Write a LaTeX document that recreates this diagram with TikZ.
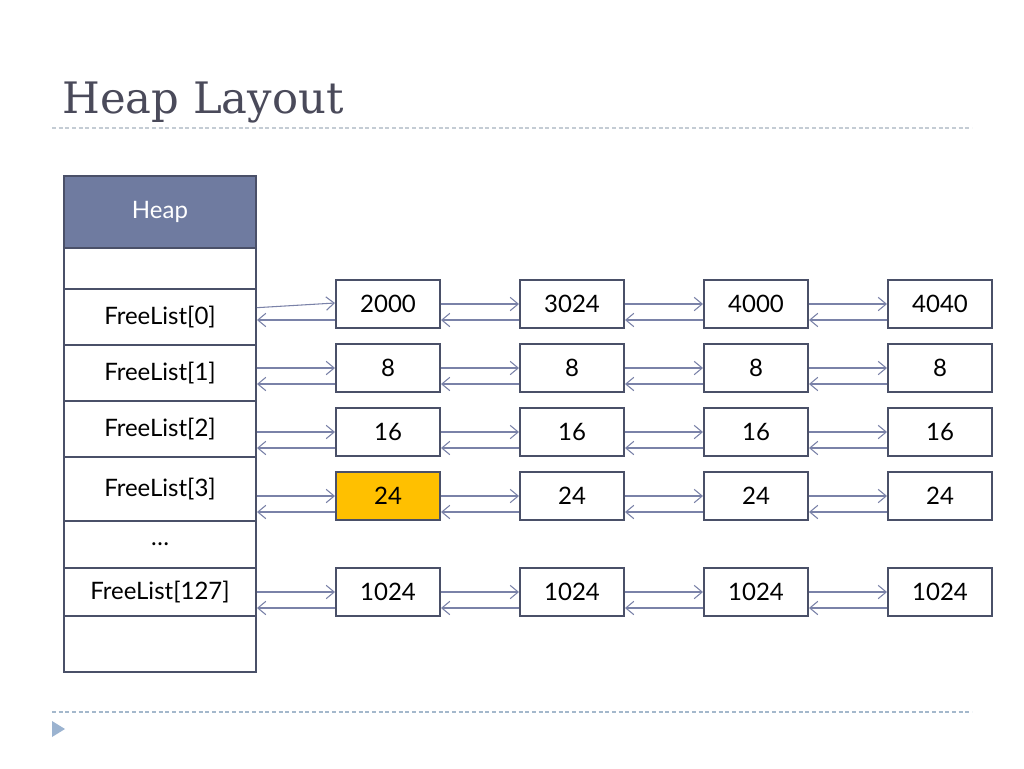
\documentclass[tikz,border=0pt]{standalone}
\usepackage{fontspec}
\setmainfont{Lato}
\newfontfamily\titlefont{DejaVu Serif}
\usetikzlibrary{arrows.meta}
\definecolor{boxline}{HTML}{4A5068}
\definecolor{arrcol}{HTML}{7A82A8}
\definecolor{headfill}{HTML}{6F7BA0}
\definecolor{hilite}{HTML}{FFC000}
\definecolor{titlecol}{HTML}{4A4A5A}
\definecolor{dashtop}{HTML}{C4CCD4}
\definecolor{dashbot}{HTML}{A4B8CC}
\definecolor{tri}{HTML}{9BB3D0}
\begin{document}
\begin{tikzpicture}[x=0.75pt,y=-0.75pt,
  cell/.style={draw=boxline,line width=1.5pt,minimum width=144pt,inner sep=0pt,font=\fontsize{18}{21}\selectfont},
  item/.style={draw=boxline,line width=1.5pt,minimum width=78pt,minimum height=36pt,inner sep=0pt,font=\fontsize{18}{21}\selectfont},
  arr/.style={draw=arrcol,line width=0.8pt,-{Straight Barb[length=6pt,width=10pt]}}]
\useasboundingbox (0,0) rectangle (1024,768);
\fill[white] (0,0) rectangle (1024,768);
% title
\node[anchor=base west,inner sep=0pt,text=titlecol,font=\titlefont\fontsize{32.5}{36}\selectfont] (title) at (62,113) {Heap Layout};
\draw[dashtop,line width=0.8pt,dash pattern=on 3pt off 2pt] (52,128) -- (972,128);
\draw[dashbot,line width=0.8pt,dash pattern=on 3pt off 2pt] (52,712) -- (972,712);
\fill[tri] (52,721) -- (65,729) -- (52,737) -- cycle;
% left column
\node[cell,fill=headfill,text=white,minimum height=54pt] (H) at (160,212) {Heap};
\node[cell,minimum height=30.75pt] (E1) at (160,268.5) {};
\node[cell,minimum height=42pt] (L0) at (160,317) {FreeList[0]};
\node[cell,minimum height=42pt] (L1) at (160,373) {FreeList[1]};
\node[cell,minimum height=42pt] (L2) at (160,429) {FreeList[2]};
\node[cell,minimum height=48pt] (L3) at (160,489) {FreeList[3]};
\node[cell,minimum height=35.25pt] (LD) at (160,544.5) {\ldots};
\node[cell,minimum height=36pt] (L127) at (160,592) {FreeList[127]};
\node[cell,minimum height=42pt] (E2) at (160,644) {};
% boxes
\node[item] (b0a) at (388,304) {2000};
\node[item] (b0b) at (572,304) {3024};
\node[item] (b0c) at (756,304) {4000};
\node[item] (b0d) at (940,304) {4040};
\node[item] (b1a) at (388,368) {8};
\node[item] (b1b) at (572,368) {8};
\node[item] (b1c) at (756,368) {8};
\node[item] (b1d) at (940,368) {8};
\node[item] (b2a) at (388,432) {16};
\node[item] (b2b) at (572,432) {16};
\node[item] (b2c) at (756,432) {16};
\node[item] (b2d) at (940,432) {16};
\node[item,fill=hilite] (b3a) at (388,496) {24};
\node[item] (b3b) at (572,496) {24};
\node[item] (b3c) at (756,496) {24};
\node[item] (b3d) at (940,496) {24};
\node[item] (b4a) at (388,592) {1024};
\node[item] (b4b) at (572,592) {1024};
\node[item] (b4c) at (756,592) {1024};
\node[item] (b4d) at (940,592) {1024};
% arrows from left column
\draw[arr] ([yshift=7pt]L0.east) -- ([yshift=0.75pt]b0a.west);
\draw[arr] ([yshift=-12pt]b0a.west) -- ([yshift=-12pt]b0a.west -| L0.east);
\foreach \L/\b in {L1/b1a,L2/b2a,L3/b3a,L127/b4a}{
  \draw[arr] (\b.west -| \L.east) -- (\b.west);
  \draw[arr] ([yshift=-12pt]\b.west) -- ([yshift=-12pt]\b.west -| \L.east);
}
% arrows between boxes
\foreach \r in {0,1,2,3,4}{
  \foreach \p/\q in {a/b,b/c,c/d}{
    \draw[arr] (b\r\p.east) -- (b\r\q.west);
    \draw[arr] ([yshift=-12pt]b\r\q.west) -- ([yshift=-12pt]b\r\p.east);
  }
}
\end{tikzpicture}
\end{document}
